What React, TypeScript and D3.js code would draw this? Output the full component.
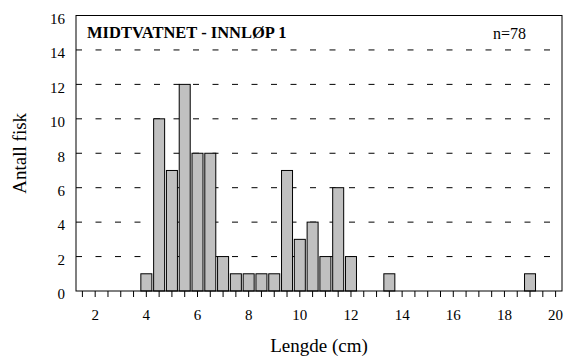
import { scaleBand, scaleLinear } from "d3"

// length classes (cm) and number of fish in each
const lengthClasses = [
  1.5, 2, 2.5, 3, 3.5, 4, 4.5, 5, 5.5, 6, 6.5, 7, 7.5, 8, 8.5, 9, 9.5, 10, 10.5,
  11, 11.5, 12, 12.5, 13, 13.5, 14, 14.5, 15, 15.5, 16, 16.5, 17, 17.5, 18, 18.5, 19, 19.5, 20,
]
const fishCounts = [
  0, 0, 0, 0, 0, 1, 10, 7, 12, 8, 8, 2, 1, 1, 1, 1, 7, 3, 4,
  2, 6, 2, 0, 0, 1, 0, 0, 0, 0, 0, 0, 0, 0, 0, 0, 1, 0, 0,
]
const xTickLabels = [2, 4, 6, 8, 10, 12, 14, 16, 18, 20]
const yTicks = [0, 2, 4, 6, 8, 10, 12, 14, 16]
const gridValues = [2, 4, 6, 8, 10, 12, 14]

const chartTitle = "MIDTVATNET - INNLØP 1"
const sampleSize = "n=78"
const xTitle = "Lengde (cm)"
const yTitle = "Antall fisk"

const width = 565
const height = 356
const plot = { left: 76, top: 15.5, right: 562, bottom: 291 }
const font = "Liberation Serif, Tinos, DejaVu Serif, serif"

export default function App() {
  const xScale = scaleBand<string>()
    .domain(lengthClasses.map(String))
    .range([plot.left, plot.right])
    .paddingInner(0.14)
    .paddingOuter(0.07)
  const yScale = scaleLinear().domain([0, 16]).range([plot.bottom, plot.top])
  const bw = xScale.bandwidth()
  const center = (v: number) => (xScale(String(v)) ?? 0) + bw / 2

  return (
    <div style={{ position: "fixed", left: 0, top: 0, background: "#fff" }}>
      <svg width={width} height={height} style={{ display: "block", fontFamily: font }}>
        <rect x={0} y={0} width={width} height={height} fill="#fff" />

        {gridValues.map((v) => (
          <line key={v} x1={plot.left} x2={plot.right} y1={yScale(v)} y2={yScale(v)} stroke="#000" strokeWidth={1} strokeDasharray="6 13.5" />
        ))}

        {lengthClasses.map((len, i) =>
          fishCounts[i] > 0 ? (
            <rect
              key={len}
              x={xScale(String(len))}
              y={yScale(fishCounts[i])}
              width={bw}
              height={yScale(0) - yScale(fishCounts[i])}
              fill="#c0c0c0"
              stroke="#000"
              strokeWidth={1}
            />
          ) : null,
        )}

        <rect x={plot.left} y={plot.top} width={plot.right - plot.left} height={plot.bottom - plot.top} fill="none" stroke="#000" strokeWidth={1} />

        {lengthClasses.map((len) => (
          <line key={len} x1={center(len)} x2={center(len)} y1={plot.bottom} y2={plot.bottom + 6} stroke="#000" />
        ))}

        {xTickLabels.map((v) => (
          <text key={v} x={center(v)} y={320} textAnchor="middle" fontSize={15}>{v}</text>
        ))}

        {yTicks.map((v) => (
          <text key={v} x={65} y={yScale(v) + 3} dy="0.35em" textAnchor="end" fontSize={15}>{v}</text>
        ))}

        <text x={87} y={38} fontSize={16.5} fontWeight="bold">{chartTitle}</text>
        <text x={493} y={39} fontSize={16}>{sampleSize}</text>

        <text x={(plot.left + plot.right) / 2} y={352} textAnchor="middle" fontSize={19}>{xTitle}</text>
        <text transform={`translate(26,${(plot.top + plot.bottom) / 2}) rotate(-90)`} textAnchor="middle" fontSize={19}>{yTitle}</text>
      </svg>
    </div>
  )
}
